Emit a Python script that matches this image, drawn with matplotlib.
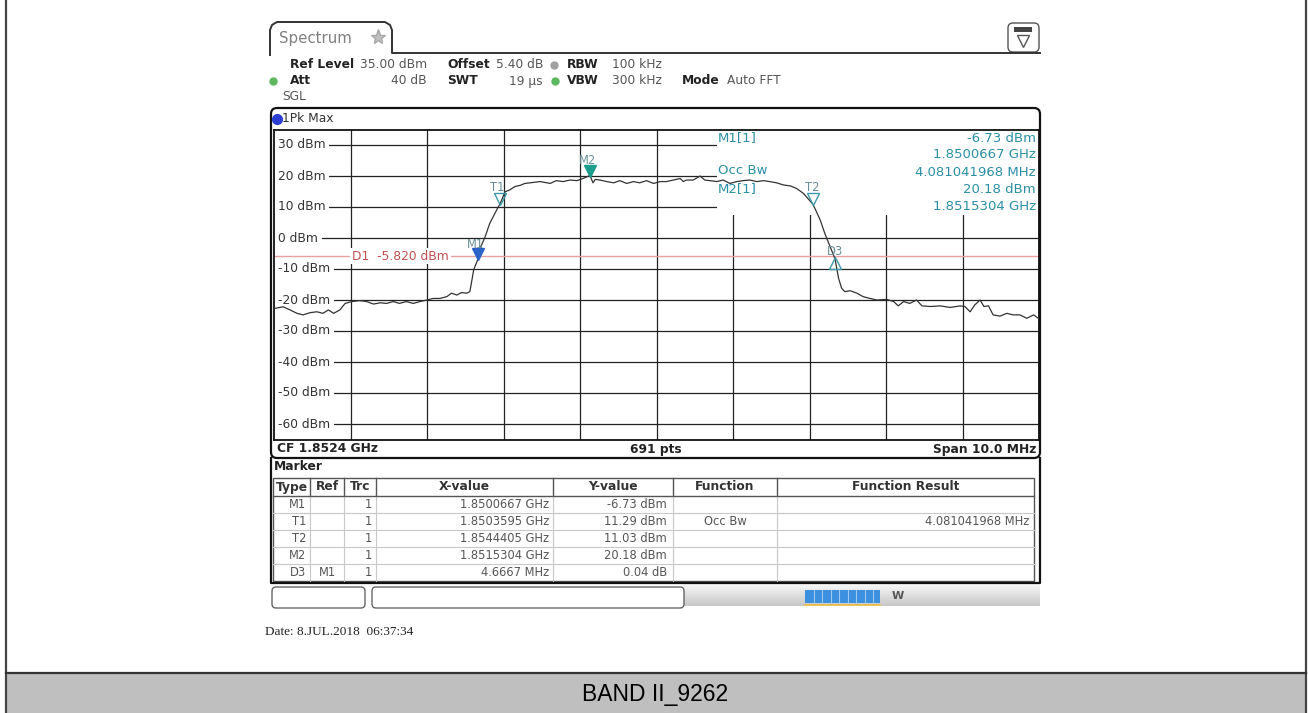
import matplotlib
matplotlib.use('Agg')
import numpy as np
import matplotlib.pyplot as plt
import matplotlib.transforms as mtransforms
from matplotlib.patches import Rectangle, FancyBboxPatch

plt.rcParams['font.family'] = ['DejaVu Sans']

# ---------------- data ----------------
center_ghz = 1.8524
span_mhz = 10.0
ref_level = 35.0
bottom_level = -65.0
n_points = 691
display_line_dbm = -5.820
y_tick_levels = [30, 20, 10, 0, -10, -20, -30, -40, -50, -60]

# trace: (frequency offset from CF in MHz, level in dBm)
trace = [
    (-4.99, -22.7), (-4.88, -22.2), (-4.79, -23.2), (-4.70, -24.3), (-4.62, -24.8),
    (-4.53, -24.1), (-4.44, -23.8), (-4.36, -24.3), (-4.29, -23.2), (-4.22, -24.3),
    (-4.14, -23.2), (-4.07, -21.1), (-3.98, -20.5), (-3.88, -20.2), (-3.79, -20.5),
    (-3.70, -21.3), (-3.61, -20.9), (-3.53, -21.1), (-3.44, -20.5), (-3.36, -21.1),
    (-3.27, -20.5), (-3.18, -21.1), (-3.09, -20.5), (-3.00, -20.0), (-2.92, -19.5),
    (-2.83, -19.5), (-2.74, -18.9), (-2.68, -17.8), (-2.61, -18.4), (-2.55, -17.6),
    (-2.48, -17.8), (-2.44, -17.3), (-2.42, -14.6), (-2.39, -10.3), (-2.333, -6.73),
    (-2.30, -3.0), (-2.24, 0.4), (-2.18, 4.7), (-2.09, 9.0), (-2.04, 11.29),
    (-1.98, 14.9), (-1.92, 15.5), (-1.85, 16.6), (-1.78, 17.0), (-1.72, 17.6),
    (-1.65, 17.8), (-1.52, 18.2), (-1.39, 17.6), (-1.31, 18.5), (-1.22, 18.2),
    (-1.13, 18.7), (-1.04, 18.5), (-0.96, 19.2), (-0.87, 20.18), (-0.83, 17.8),
    (-0.80, 18.9), (-0.74, 18.7), (-0.65, 18.2), (-0.56, 17.8), (-0.48, 18.5),
    (-0.39, 17.6), (-0.30, 18.2), (-0.22, 17.8), (-0.13, 18.5), (-0.04, 17.6),
    (0.05, 18.2), (0.13, 18.2), (0.22, 18.7), (0.31, 19.2), (0.35, 18.2),
    (0.39, 18.7), (0.48, 18.7), (0.57, 20.0), (0.63, 18.7), (0.70, 18.5),
    (0.79, 18.2), (0.87, 18.7), (0.96, 17.6), (1.05, 18.2), (1.13, 18.5),
    (1.22, 18.7), (1.31, 18.2), (1.40, 18.5), (1.48, 18.2), (1.57, 17.8),
    (1.66, 17.1), (1.75, 16.8), (1.83, 16.0), (1.92, 14.4), (2.04, 11.03),
    (2.07, 9.6), (2.14, 5.8), (2.20, 1.5), (2.27, -2.8), (2.333, -6.69),
    (2.38, -13.0), (2.42, -16.2), (2.46, -17.3), (2.53, -17.0), (2.62, -17.8),
    (2.70, -18.9), (2.79, -19.5), (2.88, -20.0), (3.01, -19.8), (3.10, -20.5),
    (3.16, -21.9), (3.23, -20.5), (3.31, -21.1), (3.40, -20.0), (3.47, -21.9),
    (3.58, -22.1), (3.71, -21.9), (3.84, -22.4), (3.97, -21.9), (4.03, -22.1),
    (4.10, -23.8), (4.16, -21.6), (4.23, -20.0), (4.28, -22.1), (4.34, -21.9),
    (4.40, -24.8), (4.49, -25.2), (4.58, -24.3), (4.66, -24.8), (4.75, -24.8),
    (4.84, -25.9), (4.93, -24.8), (4.99, -25.9),
]
trace_freq_mhz = [p[0] for p in trace]
trace_dbm = [p[1] for p in trace]

marker_types = ['M1', 'T1', 'T2', 'M2', 'D3']
marker_refs = ['', '', '', '', 'M1']
marker_trc = ['1', '1', '1', '1', '1']
marker_x_text = ['1.8500667 GHz', '1.8503595 GHz', '1.8544405 GHz', '1.8515304 GHz', '4.6667 MHz']
marker_y_text = ['-6.73 dBm', '11.29 dBm', '11.03 dBm', '20.18 dBm', '0.04 dB']
marker_function = ['', 'Occ Bw', '', '', '']
marker_result = ['', '4.081041968 MHz', '', '', '']
marker_freq_ghz = [1.8500667, 1.8503595, 1.8544405, 1.8515304, 1.8500667 + 0.0046667]
marker_level = [-6.73, 11.29, 11.03, 20.18, -6.73 + 0.04]
table_headers = ['Type', 'Ref', 'Trc', 'X-value', 'Y-value', 'Function', 'Function Result']

# ---------------- layout ----------------
W, H = 1308, 713
fig = plt.figure(figsize=(W / 100, H / 100), dpi=100)
bg = fig.add_axes([0, 0, 1, 1])
bg.set_xlim(0, W)
bg.set_ylim(H, 0)
bg.axis('off')

DARK = '#222222'
GREY = '#555555'
TEAL = '#2b90a4'
FS = 8.8


def ftext(x, y, s, **kw):
    kw.setdefault('va', 'center')
    kw.setdefault('fontsize', FS)
    return fig.text(x / W, 1 - y / H, s, **kw)


# outer page frame and bottom caption bar
bg.plot([6, 6], [0, H], color='#444444', lw=1.6)
bg.plot([1306, 1306], [0, H], color='#444444', lw=1.6)
bg.add_patch(Rectangle((6, 673), 1300, 40, facecolor='#bfbfbf', edgecolor='none'))
bg.plot([6, 1306], [673, 673], color='#333333', lw=1.6)
bg.text(655, 694, 'BAND II_9262', ha='center', va='center', fontsize=16.5,
        family='Liberation Sans', color='black')

# Spectrum tab
tab_x = [270, 270, 272, 277, 385, 390, 392, 392, 1040]
tab_y = [55, 30, 25, 22, 22, 25, 30, 53, 53]
bg.plot(tab_x, tab_y, color='#333333', lw=1.4, solid_joinstyle='round')
bg.text(279, 39, 'Spectrum', ha='left', va='center', fontsize=10.8, color='#808080')
bg.plot([378], [37], marker='*', ms=11, color='#c0c0c0', mec='#a8a8a8')

# top-right icon
bg.add_patch(FancyBboxPatch((1008, 23), 31, 29, boxstyle='round,pad=0,rounding_size=5',
                            facecolor='white', edgecolor='#555555', lw=1))
bg.add_patch(Rectangle((1014, 27), 18, 5, facecolor='#444444', edgecolor='none'))
bg.plot([1023], [41], marker='v', ms=8, mfc='none', mec='#555555', mew=1)

# header settings
r1, r2, r3 = 65, 81, 97
bg.text(290, r1, 'Ref Level', fontweight='bold', color=DARK, fontsize=FS, va='center')
bg.text(360, r1, f'{ref_level:.2f} dBm', color=GREY, fontsize=FS, va='center')
bg.text(447, r1, 'Offset', fontweight='bold', color=DARK, fontsize=FS, va='center')
bg.text(543, r1, '5.40 dB', color=GREY, fontsize=FS, va='center', ha='right')
bg.plot([554], [r1], 'o', ms=5, color='#a0a0a0')
bg.text(567, r1, 'RBW', fontweight='bold', color=DARK, fontsize=FS, va='center')
bg.text(612, r1, '100 kHz', color=GREY, fontsize=FS, va='center')

bg.plot([273], [r2], 'o', ms=5, color='#5cb85c')
bg.text(290, r2, 'Att', fontweight='bold', color=DARK, fontsize=FS, va='center')
bg.text(427, r2, '40 dB', color=GREY, fontsize=FS, va='center', ha='right')
bg.text(447, r2, 'SWT', fontweight='bold', color=DARK, fontsize=FS, va='center')
bg.text(543, r2, '19 µs', color=GREY, fontsize=FS, va='center', ha='right')
bg.plot([555], [r2], 'o', ms=5, color='#5cb85c')
bg.text(567, r2, 'VBW', fontweight='bold', color=DARK, fontsize=FS, va='center')
bg.text(612, r2, '300 kHz', color=GREY, fontsize=FS, va='center')
bg.text(682, r2, 'Mode', fontweight='bold', color=DARK, fontsize=FS, va='center')
bg.text(727, r2, 'Auto FFT', color=GREY, fontsize=FS, va='center')
bg.text(282, r3, 'SGL', color=GREY, fontsize=FS, va='center')

# main diagram box
bg.add_patch(FancyBboxPatch((271, 108), 769, 350, boxstyle='round,pad=0,rounding_size=6',
                            facecolor='white', edgecolor='#111111', lw=1.6))
bg.plot([277], [119], 'o', ms=7, color='#2a3fd1')
bg.text(282, 119, '1Pk Max', color='#333333', fontsize=FS, va='center')
bg.text(277, 449, f'CF {center_ghz} GHz', fontweight='bold', color=DARK, fontsize=FS, va='center')
bg.text(656, 449, f'{n_points} pts', fontweight='bold', color=DARK, fontsize=FS, va='center', ha='center')
bg.text(1036, 449, f'Span {span_mhz:.1f} MHz', fontweight='bold', color=DARK, fontsize=FS,
        va='center', ha='right')

# marker table region
bg.plot([271, 271, 1040, 1040], [458, 583, 583, 458], color='#111111', lw=1.6)
bg.text(274, 466, 'Marker', fontweight='bold', color=DARK, fontsize=FS, va='center')
cols = [273, 310, 344, 376, 553, 673, 777, 1034]
row_top = 478
header_h = 18
row_h = 17
rows_y = [row_top + header_h + i * row_h for i in range(len(marker_types) + 1)]
tbl_bottom = rows_y[-1]
bg.add_patch(Rectangle((cols[0], row_top), cols[-1] - cols[0], tbl_bottom - row_top,
                       facecolor='white', edgecolor='#555555', lw=1))
for x in cols[1:-1]:
    bg.plot([x, x], [row_top, row_top + header_h], color='#555555', lw=1)
    bg.plot([x, x], [row_top + header_h, tbl_bottom], color='#c8c8c8', lw=0.8)
bg.plot([cols[0], cols[-1]], [row_top + header_h] * 2, color='#555555', lw=1)
for y in rows_y[1:-1]:
    bg.plot([cols[0], cols[-1]], [y, y], color='#c8c8c8', lw=0.8)
hy = row_top + header_h / 2
for i, h in enumerate(table_headers):
    bg.text((cols[i] + cols[i + 1]) / 2, hy, h, ha='center', va='center', fontsize=FS,
            fontweight='bold', color='#333333')
tfs = 8.3
for r in range(len(marker_types)):
    yc = rows_y[r] + row_h / 2
    bg.text(cols[1] - 4, yc, marker_types[r], ha='right', va='center', fontsize=tfs, color=GREY)
    bg.text((cols[1] + cols[2]) / 2, yc, marker_refs[r], ha='center', va='center', fontsize=tfs, color=GREY)
    bg.text(cols[3] - 4, yc, marker_trc[r], ha='right', va='center', fontsize=tfs, color=GREY)
    bg.text(cols[4] - 4, yc, marker_x_text[r], ha='right', va='center', fontsize=tfs, color=GREY)
    bg.text(cols[5] - 6, yc, marker_y_text[r], ha='right', va='center', fontsize=tfs, color=GREY)
    bg.text((cols[5] + cols[6]) / 2, yc, marker_function[r], ha='center', va='center', fontsize=tfs, color=GREY)
    bg.text(cols[7] - 5, yc, marker_result[r], ha='right', va='center', fontsize=tfs, color=GREY)

# soft-key bar
bg.add_patch(FancyBboxPatch((272, 587), 93, 21, boxstyle='round,pad=0,rounding_size=4',
                            facecolor='white', edgecolor='#666666', lw=1))
bg.add_patch(FancyBboxPatch((372, 587), 312, 21, boxstyle='round,pad=0,rounding_size=4',
                            facecolor='white', edgecolor='#666666', lw=1))
grad = np.linspace(0.97, 0.78, 30)[:, None] * np.ones((30, 60))
bg.imshow(grad, extent=(684, 1040, 606, 584), cmap='gray', vmin=0, vmax=1,
          aspect='auto', interpolation='bilinear', zorder=0.5)
bg.add_patch(Rectangle((805, 590), 75, 13, facecolor='#3d8fe0', edgecolor='none', zorder=1))
for k in range(1, 9):
    bg.plot([805 + k * 8.5, 805 + k * 8.5], [590, 603], color='#9cc8f2', lw=0.8, zorder=1.1)
bg.plot([805, 880], [605, 605], color='#f0c040', lw=1.2, zorder=1)
bg.text(898, 596, 'W', fontsize=8, fontweight='bold', color='#555555', ha='center', va='center')
bg.set_xlim(0, W)
bg.set_ylim(H, 0)

# date
bg.text(265, 632, 'Date: 8.JUL.2018  06:37:34', family='Liberation Serif', fontsize=9.5,
        color='#222222', va='center')

# ---------------- graticule ----------------
gx0, gx1, gy0, gy1 = 274, 1039, 129.5, 439.5
ax = fig.add_axes([gx0 / W, 1 - gy1 / H, (gx1 - gx0) / W, (gy1 - gy0) / H])
ax.set_xlim(-span_mhz / 2, span_mhz / 2)
ax.set_ylim(bottom_level, ref_level)
ax.set_xticks([])
ax.set_yticks([])
for s in ax.spines.values():
    s.set_linewidth(1.3)
    s.set_color('#111111')
for v in range(-4, 5):
    ax.axvline(v, color='#222222', lw=0.9, zorder=1)
for h in y_tick_levels:
    ax.axhline(h, color='#222222', lw=0.9, zorder=1)

# marker info area (white) over the grid
ax.add_patch(Rectangle(((717 - gx0) / (gx1 - gx0), 1 - (215 - gy0) / (gy1 - gy0)),
                       1, 1, transform=ax.transAxes, facecolor='white',
                       edgecolor='none', zorder=2))

ylab_tf = mtransforms.blended_transform_factory(ax.transAxes, ax.transData)
for h in y_tick_levels:
    ax.text(4 / (gx1 - gx0), h, f'{h} dBm', transform=ylab_tf, ha='left', va='center',
            fontsize=8.8, color='#333333', zorder=2.5,
            bbox=dict(boxstyle='square,pad=0.3', fc='white', ec='none'))

# display line D1
ax.axhline(display_line_dbm, color='#e8a0a0', lw=1.0, zorder=1.5)
ax.text((352 - gx0) / (gx1 - gx0), display_line_dbm, f'D1  {display_line_dbm:.3f} dBm',
        transform=ylab_tf, ha='left', va='center', fontsize=8.8, color='#c05050',
        zorder=2.6, bbox=dict(boxstyle='square,pad=0.15', fc='white', ec='none'))

# trace
ax.plot(trace_freq_mhz, trace_dbm, color='#333333', lw=0.9, zorder=4)

# markers
marker_mhz = [(f - center_ghz) * 1000 for f in marker_freq_ghz]
down_tf = mtransforms.offset_copy(ax.transData, fig=fig, x=0, y=4.5, units='dots')
up_tf = mtransforms.offset_copy(ax.transData, fig=fig, x=0, y=-4.5, units='dots')
styles = {
    'M1': dict(marker='v', mfc='#2a62c9', mec='#2a62c9', tf=down_tf, off=(-3, 14)),
    'T1': dict(marker='v', mfc='none', mec='#3a9aa8', tf=down_tf, off=(-3, 16)),
    'T2': dict(marker='v', mfc='none', mec='#3a9aa8', tf=down_tf, off=(0, 16)),
    'M2': dict(marker='v', mfc='#1d9b8d', mec='#1d9b8d', tf=down_tf, off=(-2, 15)),
    'D3': dict(marker='^', mfc='none', mec='#3a9aa8', tf=up_tf, off=(0, 7)),
}
for name, fx, lv in zip(marker_types, marker_mhz, marker_level):
    st = styles[name]
    ax.plot([fx], [lv], ls='none', marker=st['marker'], ms=8, mfc=st['mfc'], mec=st['mec'],
            mew=1, transform=st['tf'], zorder=6)
    ax.annotate(name, (fx, lv), xytext=st['off'], textcoords='offset pixels', ha='center',
                va='center', fontsize=8.3, color='#6a8e98', zorder=6)

# marker info texts
ftext(718, 138, 'M1[1]', color=TEAL, fontsize=9.5)
ftext(1036, 138, marker_y_text[0], color=TEAL, ha='right', fontsize=9.5)
ftext(1036, 155, marker_x_text[0], color=TEAL, ha='right', fontsize=9.5)
ftext(718, 171, 'Occ Bw', color=TEAL, fontsize=9.5)
ftext(1036, 172, marker_result[1], color=TEAL, ha='right', fontsize=9.5)
ftext(718, 189, 'M2[1]', color=TEAL, fontsize=9.5)
ftext(1036, 189.5, marker_y_text[3], color=TEAL, ha='right', fontsize=9.5)
ftext(1036, 207, marker_x_text[3], color=TEAL, ha='right', fontsize=9.5)

fig.savefig('out.png', dpi=100)
